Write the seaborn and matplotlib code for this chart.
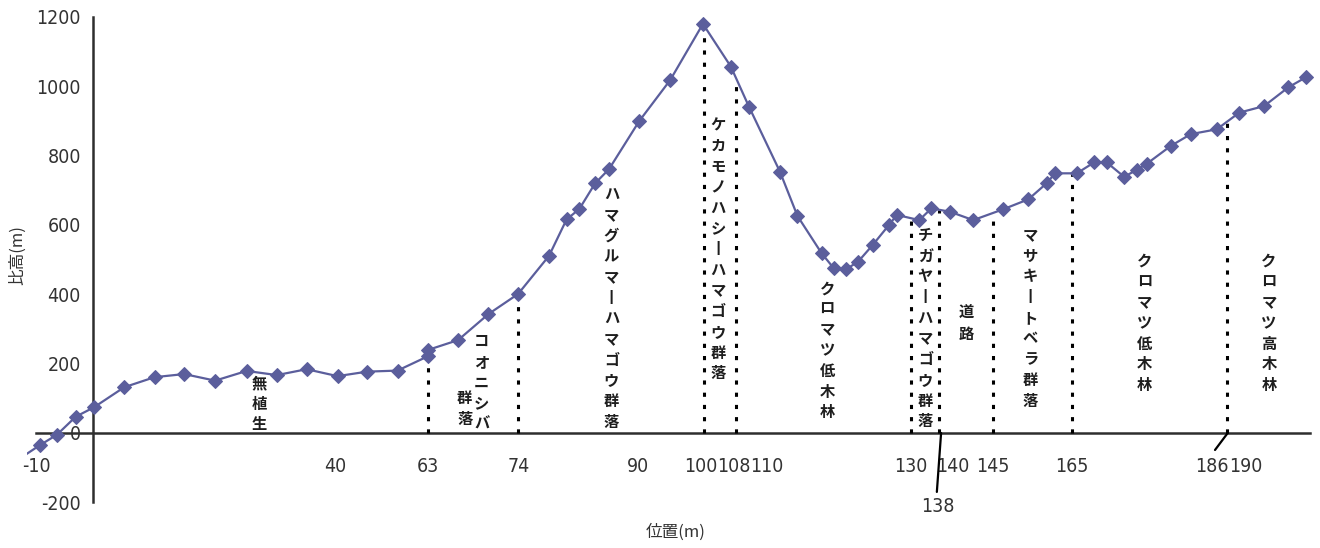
import numpy as np
import pandas as pd
import matplotlib
matplotlib.use("Agg")
import matplotlib.pyplot as plt
import seaborn as sns
from matplotlib import font_manager as fm

# ---------------- data ----------------
position_m = [-14.0, -8.8, -6.0, -2.9, 0.1, 5.1, 10.1, 15.0, 20.1, 25.3, 30.3, 35.2,
              40.3, 45.2, 50.2, 55.3, 55.3, 60.2, 65.2, 70.1, 75.2, 78.1, 80.2, 82.8,
              85.1, 90.1, 95.2, 100.6, 105.2, 108.2, 113.3, 116.2, 120.2, 122.2, 124.2,
              126.2, 128.6, 131.3, 132.6, 136.3, 138.3, 141.4, 145.2, 150.1, 154.3,
              157.3, 158.7, 162.3, 165.2, 167.2, 170.1, 172.2, 173.8, 177.8, 181.1,
              185.4, 189.1, 193.2, 197.2, 200.1]
height_m = [-95, -35, -5, 47, 74, 132, 161, 170, 151, 179, 167, 184,
            164, 177, 180, 222, 240, 268, 343, 401, 511, 616, 646, 720,
            761, 900, 1018, 1180, 1057, 941, 754, 626, 518, 475, 472,
            494, 542, 600, 629, 614, 648, 638, 614, 645, 674,
            720, 749, 749, 781, 781, 739, 759, 776, 828, 862,
            876, 924, 943, 997, 1026]

ytick_values = [-200, 0, 200, 400, 600, 800, 1000, 1200]
tick_mark_pos = [39.9, 89.9, 111.2, 140.0, 190.2]
xlabel_pos = [-9.34, 39.88, 55.28, 70.13, 89.93, 100.28, 105.78, 111.12,
              134.88, 141.91, 148.51, 161.45, 184.55, 190.21]
xlabel_text = ["-10", "40", "63", "74", "90", "100", "108", "110",
               "130", "140", "145", "165", "186", "190"]
boundary_pos = [55.3, 70.1, 100.7, 106.1, 134.9, 139.6, 148.5, 161.5, 187.0]

community_names = ["無植生", "コオニシバ", "群落", "ハマグルマーハマゴウ群落",
                   "ケカモノハシーハマゴウ群落", "クロマツ低木林", "チガヤーハマゴウ群落",
                   "道路", "マサキートベラ群落", "クロマツ低木林", "クロマツ高木林"]
community_x = [27.4, 64.1, 61.3, 85.5, 103.1, 121.1, 137.3, 144.0, 154.6, 173.5, 194.0]
community_top = [167, 288, 124, 712, 911, 441, 594, 369, 594, 519, 519]

# ---------------- style ----------------
sns.set_style("white")


def find_narrow_font():
    cands = []
    for f in fm.fontManager.ttflist:
        nm = (f.name + " " + str(f.fname)).lower()
        narrow = ("narrow" in nm or "condensed" in nm or
                  f.stretch in ("condensed", "semi-condensed", "extra-condensed"))
        if not narrow:
            continue
        if "serif" in nm and "sans" not in nm:
            continue
        if "mono" in nm or "bold" in nm or "italic" in nm or "oblique" in nm:
            continue
        score = 0
        if "liberation" in nm:
            score -= 3
        if "dejavu" in nm:
            score -= 2
        if "semi" in nm:
            score += 1
        cands.append((score, f.fname))
    if cands:
        cands.sort()
        return fm.FontProperties(fname=cands[0][1]), 14
    for fam in ["Roboto", "Liberation Sans"]:
        try:
            fm.findfont(fm.FontProperties(family=fam), fallback_to_default=False)
            return fm.FontProperties(family=fam), 12.5
        except Exception:
            pass
    return fm.FontProperties(family="DejaVu Sans"), 12


num_fp, num_size = find_narrow_font()
num_fp.set_size(num_size)
jp_family = ["Noto Sans CJK JP", "DejaVu Sans"]
plt.rcParams["font.family"] = jp_family
plt.rcParams["lines.scale_dashes"] = False

line_color = "#5b5e9c"
axis_color = "#2e2e2e"
text_color = "#333333"

fig = plt.figure(figsize=(13.2, 5.48), dpi=100)
W, H = 1320, 548
px_per_x = 6.06
x0_px = 93.3
px_per_y = 0.3467
y0_px = 433.0
ylo, yhi = -230, 1230
ax_left_px, ax_right_px = 27, 1318
ax = fig.add_axes([ax_left_px / W, 1 - (y0_px + (0 - ylo) * px_per_y) / H,
                   (ax_right_px - ax_left_px) / W, (yhi - ylo) * px_per_y / H])
ax.set_xlim((ax_left_px - x0_px) / px_per_x, (ax_right_px - x0_px) / px_per_x)
ax.set_ylim(ylo, yhi)

df = pd.DataFrame({"position": position_m, "height": height_m})

# boundaries (dotted)
for bp in boundary_pos:
    top = np.interp(bp, position_m, height_m)
    ax.plot([bp, bp], [0, top], color="black", lw=2.2,
            linestyle=(0, (3.0, 5.8)), zorder=2, solid_capstyle="butt")

sns.lineplot(data=df, x="position", y="height", estimator=None, sort=False,
             color=line_color, lw=1.6, marker="D", markersize=7.5,
             markeredgecolor=line_color, markerfacecolor=line_color, ax=ax, zorder=3)

# spines
for s in ["top", "right"]:
    ax.spines[s].set_visible(False)
ax.spines["left"].set_position(("data", 0))
ax.spines["bottom"].set_position(("data", 0))
ax.spines["left"].set_bounds(-200, 1200)
ax.spines["bottom"].set_bounds(-9.4, 200.8)
for s in ["left", "bottom"]:
    ax.spines[s].set_color(axis_color)
    ax.spines[s].set_linewidth(1.8)
    ax.spines[s].set_zorder(1)

ax.set_yticks(ytick_values)
ax.set_yticklabels([str(v) for v in ytick_values])
ax.tick_params(axis="y", length=0, pad=9, labelcolor=text_color)
for lab in ax.get_yticklabels():
    lab.set_fontproperties(num_fp)

ax.set_xticks(tick_mark_pos)
ax.set_xticklabels([""] * len(tick_mark_pos))
ax.set_xticks(xlabel_pos, minor=True)
ax.set_xticklabels(xlabel_text, minor=True)
ax.tick_params(axis="x", which="major", direction="inout", length=15, width=1.8,
               color=axis_color)
ax.tick_params(axis="x", which="minor", length=0, pad=17, labelcolor=text_color)
for lab in ax.get_xticklabels(minor=True):
    lab.set_fontproperties(num_fp)

ax.set_xlabel("")
ax.set_ylabel("")

# leader lines and the 138 label
ax.plot([185.1, 187.2], [-49, 0], color="black", lw=1.6, zorder=2)
ax.plot([139.2, 139.9], [-170, 0], color="black", lw=1.6, zorder=2)
ax.text(139.44, -211, "138", ha="center", va="center", color=text_color,
        fontproperties=num_fp)

# community labels (vertical text)
for name, cx, ct in zip(community_names, community_x, community_top):
    vert = "\n".join(ch if ch != "ー" else "丨" for ch in name)
    ax.text(cx, ct, vert, ha="center", va="top", multialignment="center",
            fontsize=11, linespacing=1.36, color="#1e1e1e", family=jp_family,
            fontweight="bold", zorder=4)

fig.text(676 / W, 1 - 532 / H, "位置(m)", ha="center", va="center",
         fontsize=12, color=text_color, family=jp_family)
fig.text(18 / W, 1 - 255 / H, "比高(m)", ha="center", va="center", rotation=90,
         fontsize=12, color=text_color, family=jp_family)

fig.savefig("out.png", dpi=100)
